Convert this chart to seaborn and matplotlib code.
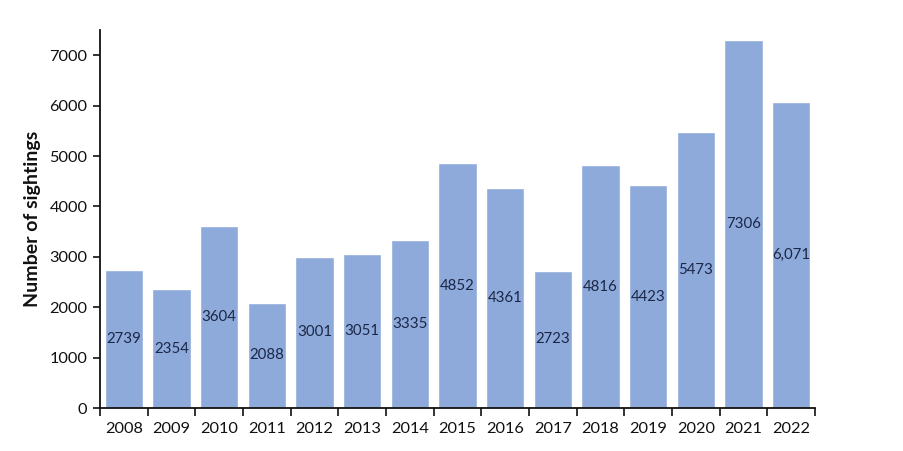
import matplotlib
matplotlib.use("Agg")
import matplotlib.pyplot as plt
import seaborn as sns
import pandas as pd

years = ["2008", "2009", "2010", "2011", "2012", "2013", "2014", "2015",
         "2016", "2017", "2018", "2019", "2020", "2021", "2022"]
sightings = [2739, 2354, 3604, 2088, 3001, 3051, 3335, 4852,
             4361, 2723, 4816, 4423, 5473, 7306, 6071]
value_labels = ["2739", "2354", "3604", "2088", "3001", "3051", "3335", "4852",
                "4361", "2723", "4816", "4423", "5473", "7306", "6,071"]
y_ticks = [0, 1000, 2000, 3000, 4000, 5000, 6000, 7000]

sns.set_theme(style="white")
plt.rcParams["font.family"] = ["Lato", "DejaVu Sans"]

df = pd.DataFrame({"year": years, "count": sightings})

fig = plt.figure(figsize=(9.04, 4.51), dpi=100)
ax = fig.add_axes([100 / 904, 43 / 451, 715 / 904, 378 / 451])

sns.barplot(data=df, x="year", y="count", color="#8eaadb", saturation=1,
            width=0.8, ax=ax)

for i, (v, lab) in enumerate(zip(sightings, value_labels)):
    ax.text(i, v / 2, lab, ha="center", va="center", fontsize=10.8,
            color="#1b2747")

ax.set_xlim(-0.5, len(years) - 0.5)
ax.set_ylim(0, 7500)
ax.set_yticks(y_ticks)
ax.set_yticklabels([str(t) for t in y_ticks], fontsize=11.8, color="#111111")

# ticks on the category boundaries
ax.set_xticks([i for i in range(len(years))])
ax.set_xticklabels(years, fontsize=11.8, color="#111111")
ax.tick_params(axis="x", length=0, pad=10)
ax.set_xticks([i - 0.5 for i in range(len(years) + 1)], minor=True)
ax.tick_params(axis="x", which="minor", length=6, width=1.2, color="#111111",
               bottom=True, direction="out")
ax.tick_params(axis="y", length=5, width=1.2, color="#111111", left=True,
               direction="out", pad=4)

for side in ["top", "right"]:
    ax.spines[side].set_visible(False)
for side in ["left", "bottom"]:
    ax.spines[side].set_color("#111111")
    ax.spines[side].set_linewidth(1.3)

ax.set_xlabel("")
ax.set_ylabel("Number of sightings", fontsize=14, fontweight="bold",
              color="#111111", labelpad=6)

fig.savefig("out.png", dpi=100)
